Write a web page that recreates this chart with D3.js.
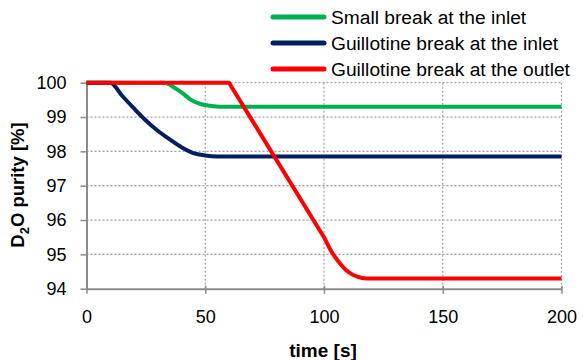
<!DOCTYPE html>
<html><head><meta charset="utf-8">
<script src="https://cdn.jsdelivr.net/npm/d3@7"></script>
<style>body{margin:0;background:#fff}svg{display:block}</style>
</head><body>
<svg id="c" width="583" height="360"></svg>
<script>
const seriesNames = ["Small break at the inlet", "Guillotine break at the inlet", "Guillotine break at the outlet"];
const seriesColors = ["#00B050", "#002060", "#FF0000"];
const smallInletT = [0, 33, 36, 40, 44, 48, 52, 56, 200];
const smallInletV = [100, 100, 99.9, 99.72, 99.5, 99.38, 99.33, 99.3, 99.3];
const guilInletT = [0, 10, 15, 20, 25, 30, 35, 40, 45, 50, 55, 200];
const guilInletV = [100, 100, 99.62, 99.25, 98.9, 98.6, 98.35, 98.12, 97.95, 97.88, 97.85, 97.85];
const guilOutletT = [0, 60, 100, 103, 106, 110, 114, 118, 200];
const guilOutletV = [100, 100, 95.5, 95.1, 94.8, 94.5, 94.35, 94.3, 94.3];
const xTicks = [0, 50, 100, 150, 200];
const yTicks = [94, 95, 96, 97, 98, 99, 100];

const svg = d3.select("#c");
const font = "'Liberation Sans', Arial, sans-serif";
const x = d3.scaleLinear().domain([0, 200]).range([86.5, 561.5]);
const y = d3.scaleLinear().domain([94, 100]).range([288.7, 82.7]);

// grid
svg.append("g").selectAll("line").data(yTicks.filter(d => d > 94)).join("line")
  .attr("x1", x(0)).attr("x2", x(200)).attr("y1", d => y(d)).attr("y2", d => y(d))
  .attr("stroke", "#a0a0a0").attr("stroke-width", 1.2).attr("stroke-dasharray", "2,2");
svg.append("g").selectAll("line").data(xTicks.filter(d => d > 0)).join("line")
  .attr("x1", d => x(d)).attr("x2", d => x(d)).attr("y1", y(94)).attr("y2", y(100))
  .attr("stroke", "#a0a0a0").attr("stroke-width", 1.2).attr("stroke-dasharray", "2,2");

// axes
const xAxis = svg.append("g").attr("transform", `translate(0,${y(94)})`)
  .call(d3.axisBottom(x).tickValues(xTicks).tickFormat(d3.format("d")).tickSize(5).tickPadding(17).tickSizeOuter(0));
const yAxis = svg.append("g").attr("transform", `translate(${x(0)},0)`)
  .call(d3.axisLeft(y).tickValues(yTicks).tickFormat(d3.format("d")).tickSize(6).tickPadding(14).tickSizeOuter(0));
[xAxis, yAxis].forEach(g => {
  g.select(".domain").attr("stroke", "#8c8c8c").attr("stroke-width", 2);
  g.selectAll(".tick line").attr("stroke", "#8c8c8c").attr("stroke-width", 1.5);
  g.selectAll("text").attr("font-family", font).attr("font-size", 18).attr("fill", "#000");
});
xAxis.selectAll(".tick line").attr("y1", -3);

// lines
const data = [
  smallInletT.map((t, i) => [t, smallInletV[i]]),
  guilInletT.map((t, i) => [t, guilInletV[i]]),
  guilOutletT.map((t, i) => [t, guilOutletV[i]])
];
const lineStraight = d3.line().x(d => x(d[0])).y(d => y(d[1]));
const lineSmooth = d3.line().x(d => x(d[0])).y(d => y(d[1])).curve(d3.curveMonotoneX);
svg.append("g").selectAll("path").data(data).join("path")
  .attr("d", (d, i) => i === 2 ? lineStraight(d.slice(0, 3)) + lineSmooth(d.slice(2)).replace(/^M/, "L") : lineSmooth(d))
  .attr("fill", "none").attr("stroke", (d, i) => seriesColors[i])
  .attr("stroke-width", 4).attr("stroke-linejoin", "round");

// legend
const leg = svg.append("g");
seriesNames.forEach((n, i) => {
  const ly = 17 + i * 26;
  leg.append("line").attr("x1", 273).attr("x2", 324).attr("y1", ly).attr("y2", ly)
    .attr("stroke", seriesColors[i]).attr("stroke-width", 5).attr("stroke-linecap", "round");
  leg.append("text").attr("x", 331).attr("y", ly + 6.5).text(n)
    .attr("font-family", font).attr("font-size", 19.2).attr("fill", "#000");
});

// axis titles
svg.append("text").attr("x", 323).attr("y", 357).attr("text-anchor", "middle")
  .attr("font-family", font).attr("font-weight", "bold").attr("font-size", 19).text("time [s]");
const yt = svg.append("text").attr("transform", "translate(24,185) rotate(-90)").attr("text-anchor", "middle")
  .attr("font-family", font).attr("font-weight", "bold").attr("font-size", 18.5);
yt.append("tspan").text("D");
yt.append("tspan").text("2").attr("font-size", 13).attr("dy", 5);
yt.append("tspan").text("O purity [%]").attr("dy", -5);
</script>
</body></html>
